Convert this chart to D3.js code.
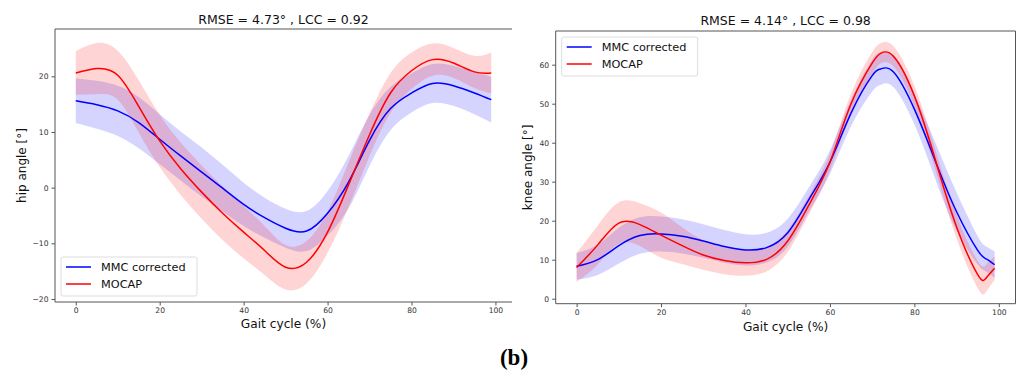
<!DOCTYPE html>
<html>
<head>
<meta charset="utf-8">
<script src="https://cdn.jsdelivr.net/npm/d3@7"></script>
<style>
  body { margin: 0; background: #fff; }
  svg { display: block; font-family: "DejaVu Sans", sans-serif; }
  .tick text { fill: #333; font-size: 7.6px; font-family: "DejaVu Sans", sans-serif; }
  .tick line { stroke: #555; }
</style>
</head>
<body>
<svg width="1017" height="379"></svg>
<script>
var seriesNames = ["MMC corrected", "MOCAP"];
var xTicks = [0, 20, 40, 60, 80, 100];

// hip angle, mean and SD per gait cycle %
var hipX = [0, 5, 10, 15, 20, 25, 30, 35, 40, 45, 50, 55, 60, 65, 70, 75, 80, 85, 90, 95, 99];
var hipMmcMean = [15.6, 14.9, 13.8, 11.7, 8.7, 5.7, 2.8, -0.1, -3.0, -5.4, -7.3, -7.8, -4.6, 1.0, 8.5, 14.2, 17.0, 18.7, 18.3, 17.0, 15.8];
var hipMmcSd = [4.0, 4.3, 4.5, 4.6, 4.5, 4.4, 4.4, 4.2, 3.9, 3.6, 3.5, 3.6, 4.0, 4.7, 4.6, 3.9, 3.5, 3.5, 3.6, 3.8, 4.1];
var hipMocapMean = [20.6, 21.4, 20.2, 14.6, 8.4, 3.4, -0.8, -4.6, -8.0, -11.3, -14.3, -13.4, -8.0, 0.5, 9.5, 17.0, 21.0, 23.0, 22.4, 20.8, 20.6];
var hipMocapSd = [3.9, 4.6, 4.4, 4.7, 4.7, 4.7, 4.8, 4.8, 4.7, 4.4, 4.0, 3.8, 3.7, 4.0, 3.8, 3.6, 3.3, 2.9, 2.7, 2.9, 3.7];
var hipYTicks = [-20, -10, 0, 10, 20];

// knee angle
var kneeX = [0, 5, 10, 15, 20, 25, 30, 35, 40, 45, 50, 55, 60, 65, 70, 72, 75, 80, 85, 90, 95, 97, 99];
var kneeMmcMean = [8.3, 10.0, 13.6, 16.2, 16.6, 16.0, 14.8, 13.4, 12.5, 13.1, 16.9, 25.4, 35.0, 47.6, 57.2, 58.9, 58.2, 48.6, 35.2, 22.3, 12.4, 10.2, 8.7];
var kneeMmcSd = [3.4, 3.9, 4.6, 4.7, 4.5, 4.4, 4.3, 4.2, 4.0, 3.8, 3.6, 3.1, 3.0, 3.4, 4.1, 4.1, 3.9, 3.9, 4.7, 4.9, 3.6, 3.2, 3.4];
var kneeMocapMean = [8.0, 13.8, 19.4, 19.0, 16.3, 13.6, 11.2, 9.8, 9.2, 10.1, 14.8, 24.0, 35.0, 50.0, 60.4, 62.9, 62.2, 52.0, 35.5, 18.4, 6.2, 5.3, 7.8];
var kneeMocapSd = [3.7, 5.0, 5.3, 5.5, 5.8, 4.7, 3.8, 3.5, 3.3, 3.1, 2.8, 2.4, 2.2, 2.6, 2.8, 2.6, 2.6, 2.6, 2.6, 3.0, 3.5, 3.5, 3.0];
var kneeYTicks = [0, 10, 20, 30, 40, 50, 60];

var titles = ["RMSE = 4.73° , LCC = 0.92", "RMSE = 4.14° , LCC = 0.98"];
var yLabels = ["hip angle [°]", "knee angle [°]"];
var xLabel = "Gait cycle (%)";
var panelTag = "(b)";

var colors = ["#0000ff", "#ff0000"];

var panels = [
  {
    box: { left: 55, right: 512, top: 29, bottom: 302 },
    yDomain: [-20.54, 28.5],
    yTicks: hipYTicks,
    x: hipX,
    series: [[hipMmcMean, hipMmcSd], [hipMocapMean, hipMocapSd]],
    title: titles[0], titleY: 24,
    yLabel: yLabels[0], yLabelX: 26,
    xLabelY: 327.5,
    rightSpine: false,
    legendAt: "bottom"
  },
  {
    box: { left: 555.7, right: 1015.5, top: 31, bottom: 303.7 },
    yDomain: [-1.28, 68.64],
    yTicks: kneeYTicks,
    x: kneeX,
    series: [[kneeMmcMean, kneeMmcSd], [kneeMocapMean, kneeMocapSd]],
    title: titles[1], titleY: 25,
    yLabel: yLabels[1], yLabelX: 532,
    xLabelY: 331,
    rightSpine: true,
    legendAt: "top"
  }
];

var svg = d3.select("svg");

panels.forEach(function(p) {
  drawPanel(svg, p);
});

svg
  .append("text")
  .attr("x", 514)
  .attr("y", 365)
  .attr("text-anchor", "middle")
  .style("font-family", "'Liberation Serif', serif")
  .style("font-weight", "bold")
  .style("font-size", "23px")
  .text(panelTag);

function drawPanel(svg, p) {
  var b = p.box;
  var x = d3.scaleLinear().domain([-4.95, 103.95]).range([b.left, b.right]);
  var y = d3.scaleLinear().domain(p.yDomain).range([b.bottom, b.top]);
  var g = svg.append("g");

  var curve = d3.curveNatural;

  // SD bands first, then the mean lines on top
  p.series.forEach(function(s, si) {
    var mean = s[0];
    var sd = s[1];
    var area = d3
      .area()
      .curve(curve)
      .x(function(d, i) { return x(p.x[i]); })
      .y0(function(d, i) { return y(mean[i] - sd[i]); })
      .y1(function(d, i) { return y(mean[i] + sd[i]); });
    g.append("path")
      .datum(mean)
      .attr("d", area)
      .attr("fill", colors[si])
      .attr("fill-opacity", 0.17);
  });

  p.series.forEach(function(s, si) {
    var line = d3
      .line()
      .curve(curve)
      .x(function(d, i) { return x(p.x[i]); })
      .y(function(d) { return y(d); });
    g.append("path")
      .datum(s[0])
      .attr("d", line)
      .attr("fill", "none")
      .attr("stroke", colors[si])
      .attr("stroke-width", 1.5);
  });

  var xAxis = g
    .append("g")
    .attr("transform", "translate(0," + b.bottom + ")")
    .call(d3.axisBottom(x).tickValues(xTicks).tickSize(3.5).tickPadding(2.5));
  xAxis.select(".domain").remove();

  var yAxis = g
    .append("g")
    .attr("transform", "translate(" + b.left + ",0)")
    .call(d3.axisLeft(y).tickValues(p.yTicks).tickSize(3.5).tickPadding(3));
  yAxis.select(".domain").remove();

  var spines = [
    [b.left, b.top, b.left, b.bottom],
    [b.left, b.bottom, b.right, b.bottom],
    [b.left, b.top, b.right, b.top]
  ];
  if (p.rightSpine) spines.push([b.right, b.top, b.right, b.bottom]);
  g.selectAll("line.spine")
    .data(spines)
    .enter()
    .append("line")
    .attr("class", "spine")
    .attr("x1", function(d) { return d[0]; })
    .attr("y1", function(d) { return d[1]; })
    .attr("x2", function(d) { return d[2]; })
    .attr("y2", function(d) { return d[3]; })
    .attr("stroke", "#555")
    .attr("stroke-width", 1);

  var cx = (b.left + b.right) / 2;
  var cy = (b.top + b.bottom) / 2;

  g.append("text")
    .attr("x", cx)
    .attr("y", p.titleY)
    .attr("text-anchor", "middle")
    .style("font-size", "12.5px")
    .attr("fill", "#111")
    .text(p.title);

  g.append("text")
    .attr("x", cx)
    .attr("y", p.xLabelY)
    .attr("text-anchor", "middle")
    .style("font-size", "12.2px")
    .attr("fill", "#111")
    .text(xLabel);

  g.append("text")
    .attr("transform", "translate(" + p.yLabelX + "," + cy + ") rotate(-90)")
    .attr("text-anchor", "middle")
    .style("font-size", "12px")
    .attr("fill", "#111")
    .text(p.yLabel);

  // legend
  var lw = 136, lh = 39;
  var lx = b.left + 6;
  var ly = p.legendAt === "top" ? b.top + 6 : b.bottom - 6 - lh;
  var legend = g.append("g").attr("transform", "translate(" + lx + "," + ly + ")");
  legend
    .append("rect")
    .attr("width", lw)
    .attr("height", lh)
    .attr("rx", 2)
    .attr("fill", "#fff")
    .attr("fill-opacity", 0.8)
    .attr("stroke", "#ddd")
    .attr("stroke-width", 1);
  var rows = legend
    .selectAll("g.row")
    .data(seriesNames)
    .enter()
    .append("g")
    .attr("transform", function(d, i) { return "translate(0," + (10 + i * 17) + ")"; });
  rows.append("line")
    .attr("x1", 5)
    .attr("x2", 30)
    .attr("stroke", function(d, i) { return colors[i]; })
    .attr("stroke-width", 1.5);
  rows.append("text")
    .attr("x", 40)
    .attr("y", 4)
    .style("font-size", "11.3px")
    .attr("fill", "#111")
    .text(function(d) { return d; });
}
</script>
</body>
</html>
